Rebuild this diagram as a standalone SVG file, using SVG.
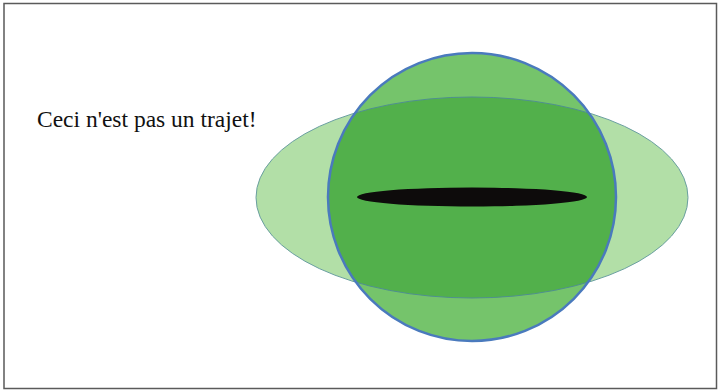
<svg xmlns="http://www.w3.org/2000/svg" width="718" height="390" viewBox="0 0 718 390">
<style>
.lbl{font-family:"Liberation Serif","Times New Roman",serif;font-size:23.5px;fill:#111}
</style>
<defs>
<clipPath id="circClip"><circle cx="472" cy="197" r="144"/></clipPath>
</defs>
<rect x="0" y="0" width="718" height="390" fill="#ffffff"/>
<rect x="4" y="3.5" width="712.5" height="385" fill="none" stroke="#5a5a5a" stroke-width="1.5"/>
<g id="text-label">
<text class="lbl" x="37" y="126.5">Ceci n'est pas un trajet!</text>
</g>
<g id="ellipse">
<ellipse cx="472" cy="197.5" rx="216" ry="100.5" fill="#b2dfa7" stroke="#6a9fa0" stroke-width="1"/>
</g>
<g id="circle">
<circle cx="472" cy="197" r="144" fill="#75c46b"/>
<ellipse cx="472" cy="197.5" rx="216" ry="100.5" fill="#52b04b" stroke="#4f8f90" stroke-width="1" clip-path="url(#circClip)"/>
<circle cx="472" cy="197" r="144" fill="none" stroke="#4a7abd" stroke-width="2.5"/>
</g>
<g id="hole">
<ellipse cx="472" cy="197" rx="115" ry="9.5" fill="#0d0b0b"/>
</g>
<g id="connectors"></g>
</svg>
